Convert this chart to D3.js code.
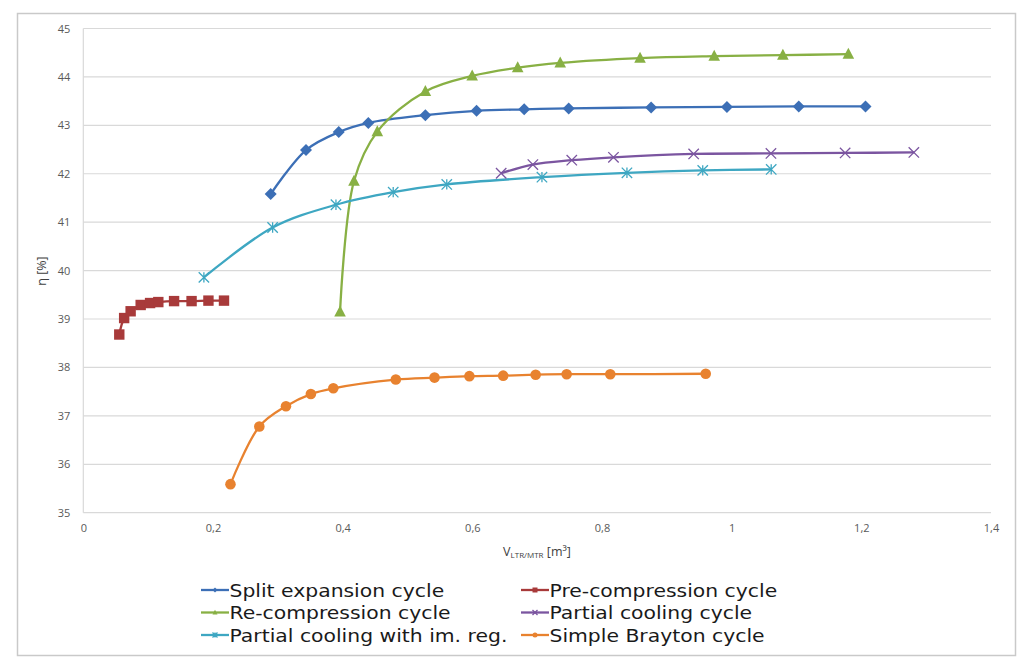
<!DOCTYPE html>
<html>
<head>
<meta charset="utf-8">
<script src="https://cdn.jsdelivr.net/npm/d3@7"></script>
<style>
  html, body { margin: 0; padding: 0; background: #fff; }
  svg { display: block; }
</style>
</head>
<body>
<svg id="chart" width="1019" height="660"></svg>
<script>
// ---- data ----
const seriesNames = [
  "Split expansion cycle",
  "Pre-compression cycle",
  "Re-compression cycle",
  "Partial cooling cycle",
  "Partial cooling with im. reg.",
  "Simple Brayton cycle"
];
const splitX = [0.289, 0.3435, 0.394, 0.4396, 0.5276, 0.6066, 0.680, 0.7486, 0.8758, 0.9927, 1.1035, 1.2064];
const splitY = [41.58, 42.49, 42.86, 43.05, 43.21, 43.30, 43.33, 43.35, 43.37, 43.38, 43.39, 43.39];
const preX = [0.0555, 0.063, 0.073, 0.0885, 0.103, 0.1157, 0.140, 0.167, 0.193, 0.217];
const preY = [38.68, 39.02, 39.16, 39.29, 39.33, 39.35, 39.37, 39.37, 39.38, 39.38];
const reX = [0.396, 0.4175, 0.4535, 0.5276, 0.5998, 0.670, 0.7356, 0.8587, 0.9731, 1.079, 1.180];
const reY = [39.15, 41.85, 42.87, 43.70, 44.02, 44.19, 44.29, 44.39, 44.43, 44.45, 44.47];
const pcX = [0.6445, 0.6934, 0.7534, 0.8177, 0.9414, 1.0606, 1.175, 1.281];
const pcY = [42.01, 42.19, 42.28, 42.34, 42.41, 42.42, 42.43, 42.44];
const pcrX = [0.186, 0.292, 0.3897, 0.478, 0.5606, 0.7074, 0.8385, 0.9554, 1.061];
const pcrY = [39.86, 40.89, 41.36, 41.62, 41.78, 41.93, 42.02, 42.07, 42.09];
const sbX = [0.227, 0.2715, 0.3126, 0.351, 0.3856, 0.482, 0.5417, 0.5955, 0.6476, 0.6977, 0.7455, 0.8128, 0.960];
const sbY = [35.59, 36.78, 37.20, 37.45, 37.57, 37.75, 37.79, 37.82, 37.83, 37.85, 37.86, 37.86, 37.87];
const xTicks = [0, 0.2, 0.4, 0.6, 0.8, 1, 1.2, 1.4];
const yTicks = [35, 36, 37, 38, 39, 40, 41, 42, 43, 44, 45];

const colors = ["#3c6fb6", "#a83a3a", "#88b044", "#7b55a0", "#3ea7c2", "#e8822f"];
const markers = ["diamond", "square", "triangle", "x", "asterisk", "circle"];

const series = [
  {x: splitX, y: splitY},
  {x: preX, y: preY},
  {x: reX, y: reY},
  {x: pcX, y: pcY},
  {x: pcrX, y: pcrY},
  {x: sbX, y: sbY}
].map((s, i) => ({
  name: seriesNames[i], color: colors[i], marker: markers[i],
  pts: s.x.map((xv, j) => [xv, s.y[j]])
}));

// ---- layout ----
const svg = d3.select("#chart");
const L = 83.3, R = 991, T = 28.5, B = 512.7;
const x = d3.scaleLinear().domain([0, 1.4]).range([L, R]);
const y = d3.scaleLinear().domain([35, 45]).range([B, T]);

// outer border
svg.append("rect").attr("x", 17.5).attr("y", 13.5).attr("width", 998).attr("height", 642)
  .attr("fill", "#fff").attr("stroke", "#c9c9c9").attr("stroke-width", 1.5);

// gridlines
svg.append("g").selectAll("line").data(yTicks).join("line")
  .attr("x1", L).attr("x2", R)
  .attr("y1", d => y(d)).attr("y2", d => y(d))
  .attr("stroke", "#d9d9d9").attr("stroke-width", 1.2);
// left axis line
svg.append("line").attr("x1", L).attr("x2", L).attr("y1", T).attr("y2", B)
  .attr("stroke", "#d9d9d9").attr("stroke-width", 1.2);

const fmt = d => String(d).replace(".", ",");
// y axis
const yAxis = svg.append("g").attr("transform", `translate(${L},0)`)
  .call(d3.axisLeft(y).tickValues(yTicks).tickSize(0).tickPadding(13).tickFormat(fmt));
yAxis.select(".domain").remove();
yAxis.selectAll("text").attr("font-family", "'Open Sans', sans-serif").attr("font-size", 11).attr("fill", "#595959");
// x axis
const xAxis = svg.append("g").attr("transform", `translate(0,${B})`)
  .call(d3.axisBottom(x).tickValues(xTicks).tickSize(0).tickPadding(12).tickFormat(fmt));
xAxis.select(".domain").remove();
xAxis.selectAll("text").attr("font-family", "'Open Sans', sans-serif").attr("font-size", 11).attr("fill", "#595959");

// axis titles
const xt = svg.append("text").attr("x", 537).attr("y", 556).attr("text-anchor", "middle")
  .attr("font-family", "'Open Sans', sans-serif").attr("font-size", 12.5).attr("fill", "#404040");
xt.append("tspan").text("V");
xt.append("tspan").attr("font-size", 8).attr("dy", 2).text("LTR/MTR");
xt.append("tspan").attr("dy", -2).text(" [m³]");

svg.append("text").attr("transform", "translate(46,271) rotate(-90)").attr("text-anchor", "middle")
  .attr("font-family", "'Open Sans', sans-serif").attr("font-size", 12.5).attr("fill", "#404040")
  .text("η [%]");

// marker drawing
function drawMarker(g, type, color, s) {
  if (type === "diamond") {
    g.append("path").attr("d", `M0,${-s}L${s},0L0,${s}L${-s},0Z`).attr("fill", color);
  } else if (type === "square") {
    g.append("rect").attr("x", -s).attr("y", -s).attr("width", 2*s).attr("height", 2*s).attr("fill", color);
  } else if (type === "triangle") {
    g.append("path").attr("d", `M0,${-s*1.1}L${s},${s*0.8}L${-s},${s*0.8}Z`).attr("fill", color);
  } else if (type === "circle") {
    g.append("circle").attr("r", s).attr("fill", color);
  } else if (type === "x") {
    g.append("path").attr("d", `M${-s},${-s}L${s},${s}M${-s},${s}L${s},${-s}`)
      .attr("stroke", color).attr("stroke-width", 1.3).attr("fill", "none");
  } else if (type === "asterisk") {
    g.append("path").attr("d", `M${-s},${-s}L${s},${s}M${-s},${s}L${s},${-s}M0,${-s}L0,${s}`)
      .attr("stroke", color).attr("stroke-width", 1.3).attr("fill", "none");
  }
}

const line = d3.line().x(d => x(d[0])).y(d => y(d[1])).curve(d3.curveCatmullRom.alpha(0.5));
const markerSize = {diamond: 6, square: 5.2, triangle: 5.8, x: 5.2, asterisk: 5.2, circle: 5.3};

series.forEach(s => {
  svg.append("path").attr("d", line(s.pts)).attr("fill", "none")
    .attr("stroke", s.color).attr("stroke-width", 2.3).attr("stroke-linejoin", "round");
});
series.forEach(s => {
  s.pts.forEach(p => {
    const g = svg.append("g").attr("transform", `translate(${x(p[0])},${y(p[1])})`);
    drawMarker(g, s.marker, s.color, markerSize[s.marker]);
  });
});

// legend
const legX = [201, 521];
const legY = [590, 612.5, 635];
const sx = 1.1;
series.forEach((s, i) => {
  const col = i % 2, row = Math.floor(i / 2);
  const g = svg.append("g").attr("transform", `translate(${legX[col]},${legY[row]})`);
  g.append("line").attr("x1", 0).attr("x2", 28).attr("y1", 0).attr("y2", 0)
    .attr("stroke", s.color).attr("stroke-width", 2.3);
  const mg = g.append("g").attr("transform", "translate(14,0)");
  drawMarker(mg, s.marker, s.color, 2.5);
  g.append("text").attr("x", 28.5 / sx).attr("y", 6.5)
    .attr("font-family", "'DejaVu Sans', sans-serif").attr("font-size", 18.5).attr("fill", "#1a1a1a")
    .attr("transform", `scale(${sx},1)`)
    .text(s.name);
});
</script>
</body>
</html>
